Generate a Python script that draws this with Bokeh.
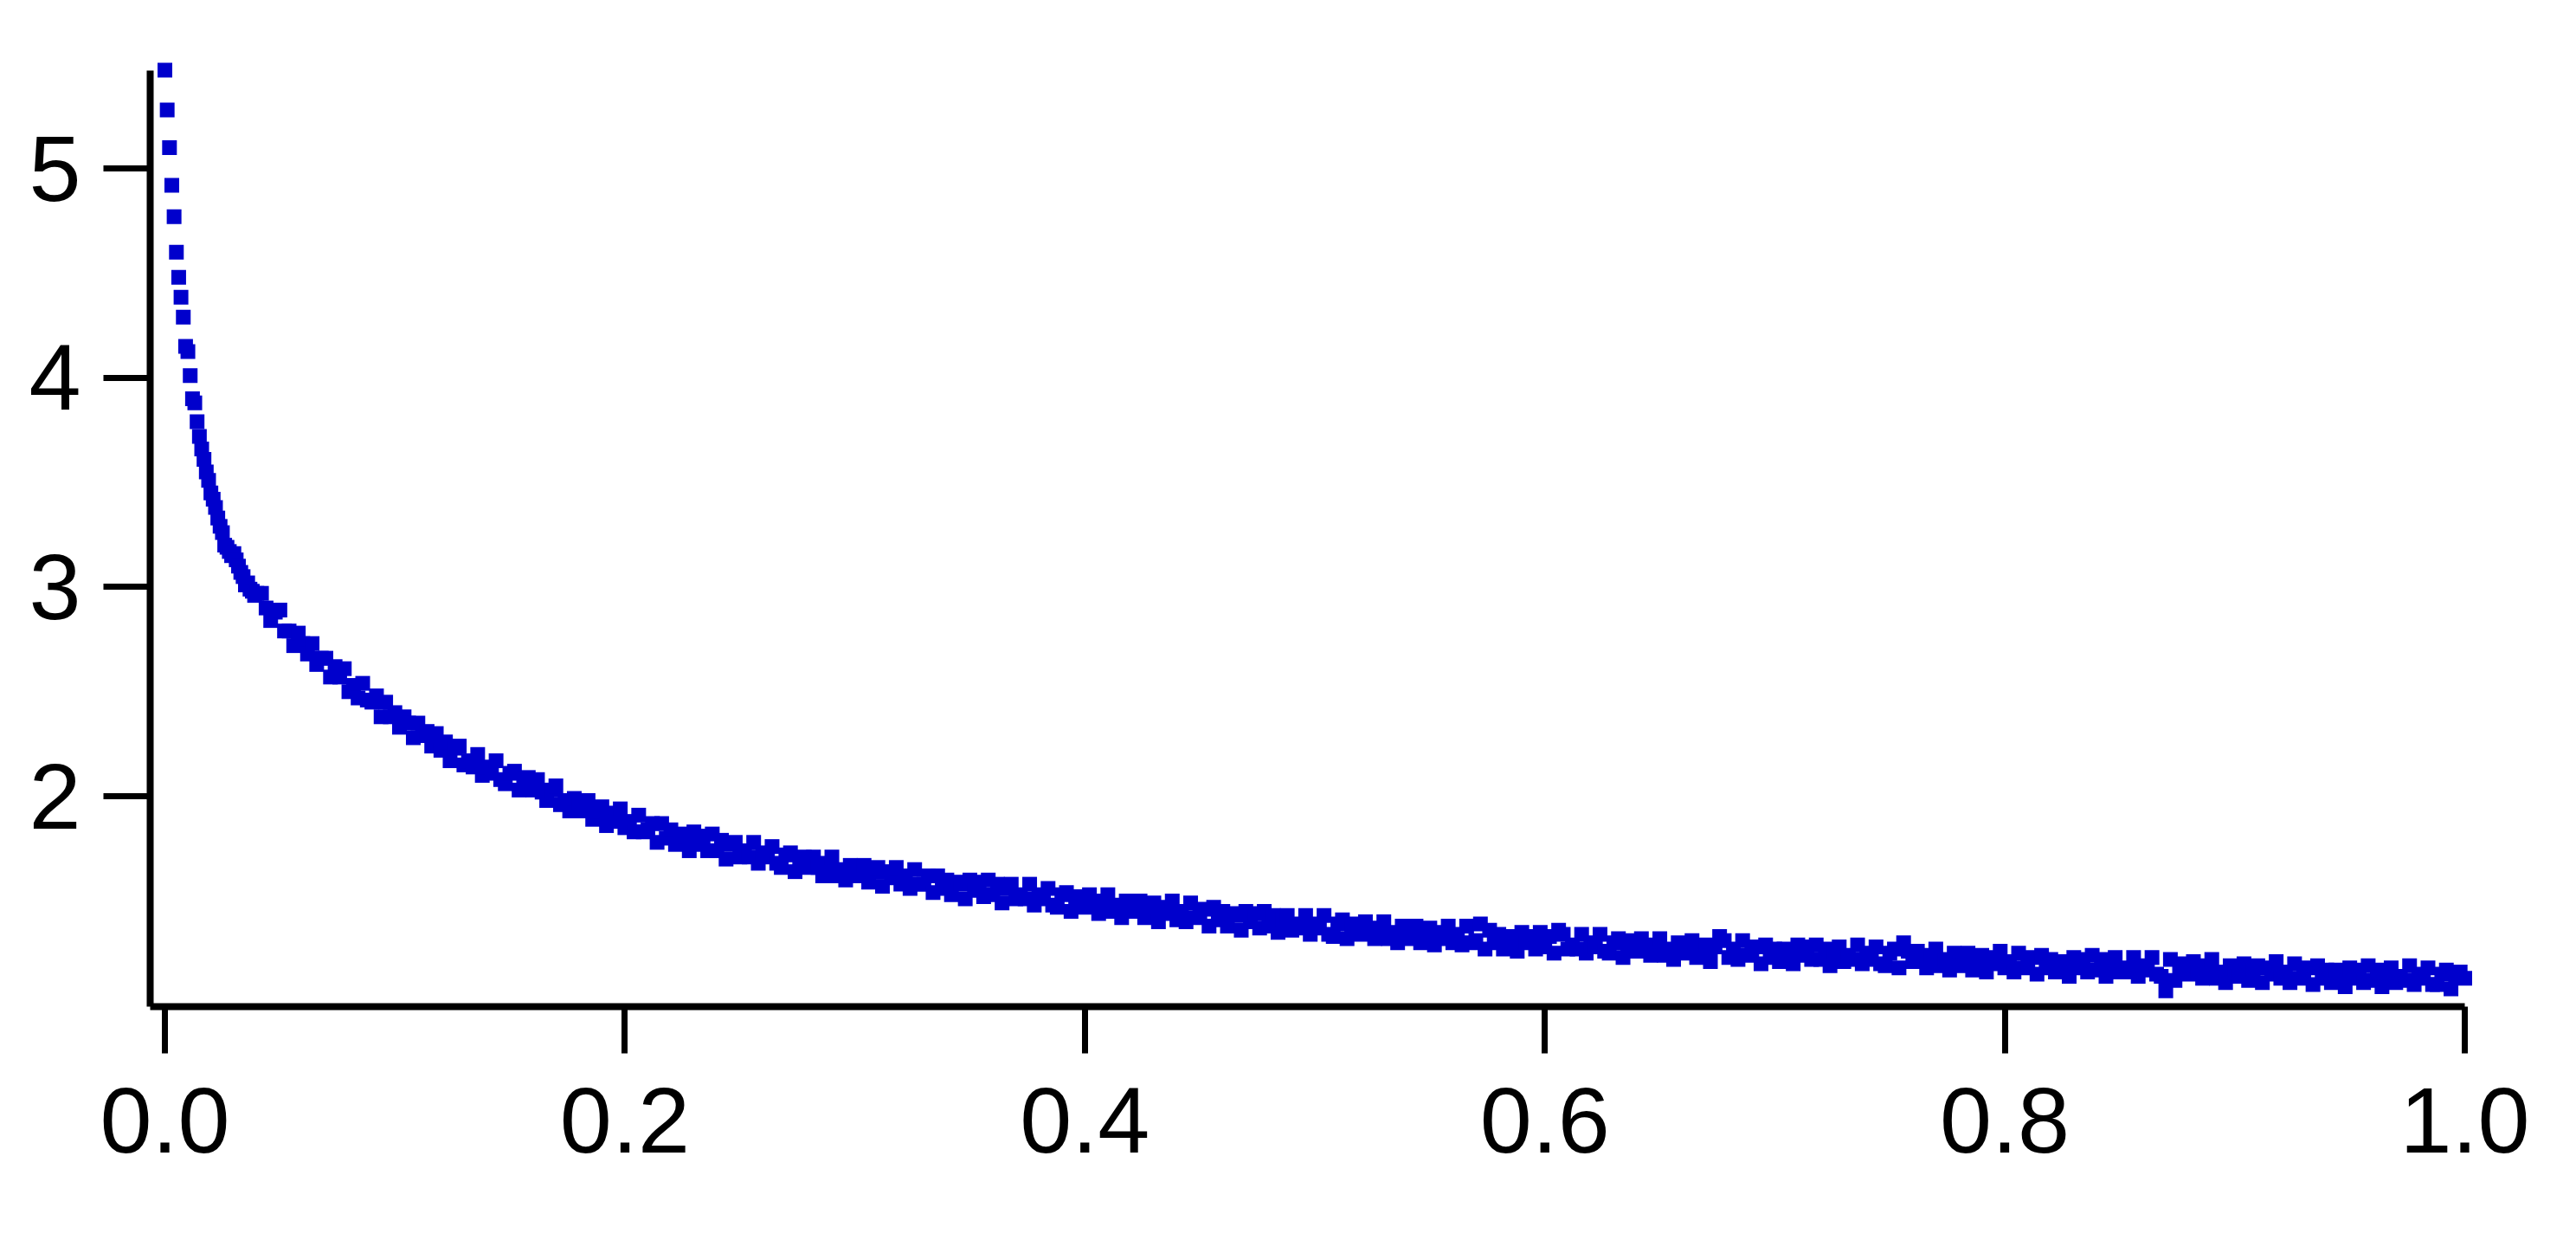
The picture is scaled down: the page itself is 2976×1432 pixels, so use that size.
import numpy as np
from bokeh.plotting import figure
from bokeh.models import Range1d, FixedTicker
from bokeh.embed import file_html
from bokeh.resources import INLINE

# ---- data ----
# dense start of the curve: x = 0.000 ... 0.040 (sampling step 0.001)
x_head = [round(0.001 * i, 3) for i in range(41)]
y_head = [5.47, 5.28, 5.10, 4.92, 4.77, 4.60, 4.48, 4.385, 4.29, 4.15,
          4.125, 4.01, 3.90, 3.88, 3.79, 3.72, 3.66, 3.61, 3.55, 3.51,
          3.45, 3.42, 3.38, 3.33, 3.29, 3.26, 3.20, 3.19, 3.17, 3.15,
          3.16, 3.13, 3.10, 3.07, 3.05, 3.01, 3.02, 2.99, 2.98, 2.96,
          2.97]

# rest of the curve: x = 0.042 ... 1.000 (sampling step 0.002)
x_tail = [round(0.042 + 0.002 * i, 3) for i in range(480)]
y_tail = [
    2.97, 2.90, 2.84, 2.88, 2.89, 2.79, 2.79, 2.72, 2.78, 2.73,
    2.68, 2.73, 2.63, 2.66, 2.66, 2.57, 2.62, 2.57, 2.61, 2.50,
    2.53, 2.47, 2.54, 2.46, 2.45, 2.48, 2.38, 2.45, 2.38, 2.40,
    2.33, 2.38, 2.35, 2.28, 2.35, 2.29, 2.31, 2.24, 2.30, 2.22,
    2.26, 2.17, 2.23, 2.24, 2.15, 2.17, 2.14, 2.20, 2.10, 2.14,
    2.11, 2.17, 2.08, 2.06, 2.11, 2.12, 2.03, 2.08, 2.09, 2.03,
    2.08, 2.02, 1.98, 2.03, 2.05, 1.96, 1.98, 1.93, 1.99, 1.97,
    1.93, 1.98, 1.89, 1.93, 1.95, 1.86, 1.92, 1.88, 1.94, 1.85,
    1.88, 1.83, 1.91, 1.83, 1.84, 1.87, 1.78, 1.87, 1.80, 1.84,
    1.77, 1.82, 1.81, 1.74, 1.83, 1.77, 1.81, 1.74, 1.82, 1.74,
    1.79, 1.70, 1.77, 1.78, 1.71, 1.74, 1.71, 1.78, 1.68, 1.73,
    1.71, 1.76, 1.68, 1.66, 1.72, 1.73, 1.64, 1.69, 1.71, 1.66,
    1.71, 1.66, 1.62, 1.68, 1.71, 1.62, 1.65, 1.60, 1.67, 1.65,
    1.62, 1.67, 1.59, 1.64, 1.66, 1.57, 1.64, 1.61, 1.66, 1.58,
    1.62, 1.56, 1.65, 1.58, 1.58, 1.62, 1.54, 1.62, 1.56, 1.60,
    1.53, 1.59, 1.58, 1.51, 1.60, 1.55, 1.59, 1.52, 1.60, 1.53,
    1.58, 1.49, 1.56, 1.58, 1.51, 1.53, 1.51, 1.58, 1.48, 1.53,
    1.51, 1.56, 1.48, 1.47, 1.53, 1.54, 1.45, 1.51, 1.52, 1.47,
    1.53, 1.48, 1.44, 1.50, 1.53, 1.45, 1.48, 1.42, 1.50, 1.48,
    1.45, 1.50, 1.42, 1.47, 1.49, 1.40, 1.47, 1.44, 1.50, 1.41,
    1.45, 1.40, 1.49, 1.42, 1.43, 1.46, 1.38, 1.47, 1.41, 1.45,
    1.38, 1.44, 1.43, 1.36, 1.45, 1.40, 1.44, 1.37, 1.45, 1.38,
    1.43, 1.35, 1.41, 1.43, 1.36, 1.39, 1.37, 1.43, 1.34, 1.39,
    1.37, 1.43, 1.34, 1.33, 1.39, 1.41, 1.32, 1.37, 1.39, 1.34,
    1.40, 1.35, 1.32, 1.37, 1.40, 1.32, 1.35, 1.30, 1.38, 1.36,
    1.32, 1.38, 1.30, 1.35, 1.37, 1.29, 1.35, 1.32, 1.38, 1.30,
    1.34, 1.29, 1.38, 1.30, 1.31, 1.39, 1.27, 1.36, 1.30, 1.34,
    1.27, 1.33, 1.32, 1.26, 1.35, 1.30, 1.33, 1.27, 1.35, 1.28,
    1.33, 1.25, 1.36, 1.34, 1.27, 1.29, 1.27, 1.34, 1.25, 1.30,
    1.28, 1.34, 1.26, 1.25, 1.30, 1.32, 1.23, 1.28, 1.31, 1.26,
    1.32, 1.27, 1.24, 1.29, 1.32, 1.24, 1.27, 1.22, 1.30, 1.28,
    1.25, 1.31, 1.23, 1.28, 1.29, 1.21, 1.28, 1.33, 1.31, 1.23,
    1.27, 1.22, 1.31, 1.24, 1.25, 1.28, 1.20, 1.29, 1.23, 1.27,
    1.21, 1.27, 1.26, 1.20, 1.29, 1.24, 1.28, 1.22, 1.29, 1.22,
    1.27, 1.19, 1.26, 1.28, 1.21, 1.24, 1.22, 1.29, 1.20, 1.25,
    1.22, 1.28, 1.20, 1.19, 1.25, 1.27, 1.18, 1.30, 1.26, 1.21,
    1.26, 1.21, 1.18, 1.24, 1.27, 1.19, 1.22, 1.17, 1.25, 1.23,
    1.19, 1.25, 1.17, 1.22, 1.24, 1.16, 1.23, 1.20, 1.26, 1.18,
    1.21, 1.16, 1.25, 1.18, 1.19, 1.23, 1.15, 1.24, 1.18, 1.22,
    1.16, 1.21, 1.20, 1.14, 1.23, 1.18, 1.22, 1.16, 1.24, 1.17,
    1.22, 1.14, 1.21, 1.23, 1.16, 1.18, 1.16, 1.23, 1.14, 1.19,
    1.17, 1.23, 1.15, 1.14, 1.07, 1.22, 1.12, 1.18, 1.20, 1.15,
    1.21, 1.16, 1.13, 1.19, 1.22, 1.13, 1.16, 1.11, 1.19, 1.17,
    1.14, 1.20, 1.12, 1.17, 1.19, 1.11, 1.18, 1.15, 1.21, 1.13,
    1.16, 1.11, 1.20, 1.13, 1.14, 1.18, 1.10, 1.19, 1.13, 1.17,
    1.11, 1.17, 1.16, 1.09, 1.18, 1.13, 1.17, 1.11, 1.19, 1.12,
    1.17, 1.09, 1.16, 1.18, 1.11, 1.14, 1.12, 1.19, 1.10, 1.15,
    1.13, 1.18, 1.10, 1.10, 1.15, 1.17, 1.08, 1.14, 1.16, 1.13,
]

x_ticks = [0.0, 0.2, 0.4, 0.6, 0.8, 1.0]
x_tick_labels = ["0.0", "0.2", "0.4", "0.6", "0.8", "1.0"]
y_ticks = [2, 3, 4, 5]
y_tick_labels = ["2", "3", "4", "5"]

x_all = x_head + x_tail
y_all = y_head + y_tail

# ---- layout ----
FRAME_W, FRAME_H = 2690, 1094
px_per_x = 2657.0
px_per_y = 241.67
x0 = -0.0064
y0 = 0.995
x1 = x0 + FRAME_W / px_per_x
y1 = y0 + FRAME_H / px_per_y

p = figure(frame_width=FRAME_W, frame_height=FRAME_H,
           x_range=Range1d(x0, x1), y_range=Range1d(y0, y1),
           output_backend="svg", toolbar_location=None,
           min_border_left=173, min_border_right=97,
           min_border_top=68, min_border_bottom=254)
p.outline_line_color = None
p.background_fill_color = "white"
p.border_fill_color = "white"
p.xgrid.visible = False
p.ygrid.visible = False

p.scatter(x_all, y_all, marker="square", size=17,
          fill_color="#0000CC", line_color=None)

FONT = "Liberation Sans"
for ax, ticks, labels in ((p.xaxis[0], x_ticks, x_tick_labels),
                          (p.yaxis[0], y_ticks, y_tick_labels)):
    ax.ticker = FixedTicker(ticks=ticks)
    ax.major_label_overrides = {t: l for t, l in zip(ticks, labels)}
    ax.minor_tick_line_color = None
    ax.major_tick_in = 0
    ax.major_tick_out = 54
    ax.major_tick_line_width = 7
    ax.major_tick_line_color = "black"
    ax.axis_line_width = 8
    ax.axis_line_color = "black"
    ax.major_label_text_font = FONT
    ax.major_label_text_font_size = "108px"
    ax.major_label_text_color = "black"

p.xaxis[0].bounds = (x0, 1.0)
p.yaxis[0].bounds = (y0, 5.47)
p.xaxis[0].major_label_standoff = 40
p.yaxis[0].major_label_standoff = 26

open("out.html", "w").write(file_html(p, INLINE))
